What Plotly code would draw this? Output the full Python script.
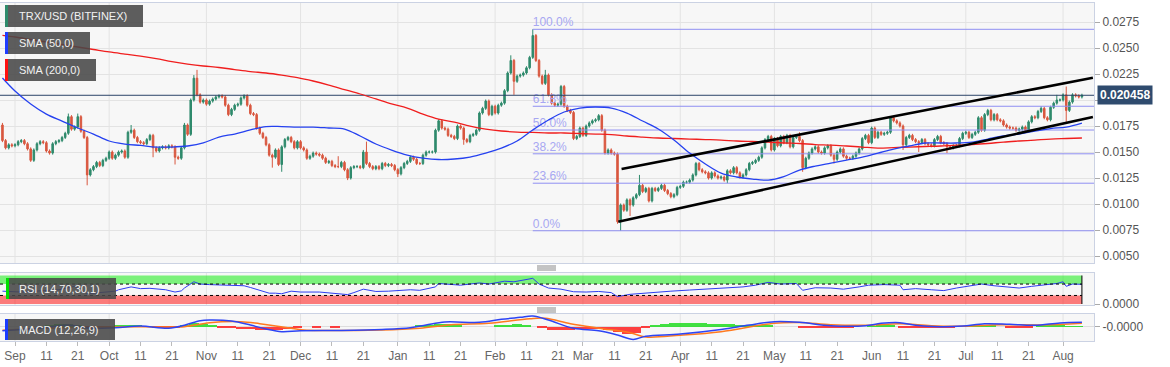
import pandas as pd
import plotly.graph_objects as go
from plotly.subplots import make_subplots

BASE = pd.Timestamp("2018-09-01")
FIRST_DAY = -4  # first candle = 2018-08-28

# ---------------- price data (thousandths of USD) ----------------
close_milli = [
    16.1, 15.4, 15.7, 15.6, 15.7, 16.0, 16.1, 15.8, 15.3, 14.2,
    15.2, 15.8, 16.0, 15.9, 15.1, 14.9, 15.8, 16.0, 16.1, 16.4,
    16.8, 18.4, 17.2, 17.4, 18.4, 17.0, 16.4, 12.8, 13.3, 13.6,
    14.0, 13.7, 14.2, 14.4, 15.0, 14.4, 14.7, 15.0, 15.1, 14.5,
    16.9, 17.1, 16.4, 16.0, 15.9, 15.8, 16.2, 16.6, 15.4, 15.1,
    15.4, 15.5, 15.4, 15.6, 15.5, 14.5, 14.4, 15.4, 17.6, 16.7,
    20.0, 22.1, 20.5, 19.8, 20.0, 19.6, 19.9, 20.1, 20.3, 20.4,
    20.3, 19.5, 18.6, 19.1, 19.5, 19.6, 20.2, 20.4, 19.5, 18.7,
    18.6, 17.3, 16.8, 16.4, 15.7, 14.7, 14.5, 15.2, 13.8, 15.5,
    16.2, 16.4, 16.0, 15.4, 16.0, 15.4, 15.2, 14.4, 14.6, 14.9,
    14.8, 14.7, 14.4, 14.0, 14.1, 13.7, 13.6, 13.6, 14.0, 13.3,
    12.5, 13.5, 13.6, 13.6, 13.5, 15.0, 13.9, 13.6, 13.4, 13.6,
    13.4, 13.9, 13.7, 13.8, 13.7, 13.3, 12.9, 13.5, 13.9, 14.1,
    14.5, 14.3, 13.9, 13.9, 14.7, 15.0, 15.0, 15.0, 17.1, 18.0,
    17.3, 17.2, 16.6, 16.5, 16.3, 17.5, 17.3, 16.2, 16.0, 16.6,
    16.7, 17.1, 18.75, 19.2, 19.9, 18.6, 19.4, 18.75, 19.5, 19.7,
    20.9, 22.6, 23.8, 21.8, 22.3, 22.4, 22.6, 23.1, 24.1, 26.2,
    23.8, 22.3, 21.6, 22.4, 20.5, 19.7, 19.5, 19.6, 21.3, 19.4,
    19.0, 18.8, 16.3, 16.5, 17.3, 16.6, 17.5, 17.8, 18.0, 18.1,
    18.5, 17.1, 14.9, 15.2, 14.9, 14.8, 8.3, 9.9, 9.4, 10.4,
    9.9, 10.6, 10.9, 11.8, 11.2, 11.5, 10.3, 11.5, 11.3, 11.5,
    11.8, 11.3, 11.0, 10.7, 10.9, 11.6, 11.7, 12.1, 12.1, 12.3,
    12.8, 13.9, 13.3, 13.1, 13.0, 12.5, 13.0, 12.7, 12.5, 12.6,
    12.3, 13.2, 13.0, 13.5, 13.0, 12.6, 12.8, 13.3, 13.9, 14.0,
    14.2, 14.5, 15.4, 16.2, 16.5, 15.2, 16.3, 15.6, 16.5, 15.9,
    16.6, 15.5, 16.4, 16.5, 16.1, 13.5, 14.4, 14.9, 15.3, 15.5,
    15.0, 14.9, 15.4, 15.6, 14.7, 14.3, 15.0, 15.3, 14.6, 14.4,
    14.4, 14.6, 14.9, 15.3, 16.3, 16.6, 15.9, 17.3, 16.4, 16.9,
    16.7, 16.8, 16.9, 18.3, 18.0, 17.8, 17.5, 15.7, 16.4, 16.6,
    16.2, 16.0, 15.9, 16.2, 15.8, 15.7, 15.6, 16.2, 16.5, 15.9,
    15.8, 15.5, 15.4, 15.6, 15.6, 16.3, 16.8, 16.9, 16.4, 16.7,
    16.9, 18.3, 17.1, 18.6, 19.0, 18.1, 18.6, 18.1, 18.0, 17.6,
    17.4, 17.3, 17.3, 17.1, 17.2, 17.4, 17.1, 17.9, 18.4, 18.3,
    18.9, 19.2, 18.3, 18.1, 19.3, 19.7, 20.0, 20.0, 20.5, 19.0,
    19.8, 20.5, 20.4, 20.3, 20.458,
]
first_open_milli = 17.6
high_milli = {-4: 17.8, 17: 18.7, 20: 18.7, 37: 17.6, 54: 17.8, 57: 22.4, 58: 22.9,
              103: 14.6, 111: 15.2, 112: 16.0, 158: 24.3, 165: 26.8, 169: 22.9,
              199: 12.8, 250: 16.9, 327: 19.4, 332: 20.5, 335: 21.3}
low_milli = {23: 11.8, 44: 14.5, 51: 13.8, 82: 13.5, 85: 13.1, 106: 12.3, 122: 12.6,
             143: 15.7, 159: 20.5, 192: 8.1, 193: 7.43, 196: 8.85, 227: 12.0,
             251: 13.1, 261: 13.9, 283: 15.2, 288: 15.0, 297: 14.9, 335: 17.9}
typical_wick_milli = 0.15

# ---------------- moving averages (sampled) ----------------
sma_day = [-4] + list(range(0, 341, 5))
sma50_milli = [22.12, 20.87, 19.62, 18.65, 17.98, 17.31, 16.73, 16.06, 15.77, 15.63,
               15.48, 15.48, 15.58, 15.87, 16.44, 16.73, 17.12, 17.45, 17.45, 17.4,
               17.4, 17.31, 17.21, 16.54, 15.77, 15.19, 14.71, 14.42, 14.28, 14.33,
               14.52, 14.9, 15.38, 16.06, 17.12, 18.08, 18.85, 19.23, 19.33, 19.23,
               18.75, 17.98, 17.21, 16.15, 14.9, 13.85, 12.98, 12.6, 12.4, 12.3,
               12.64, 13.27, 13.65, 13.94, 14.23, 14.52, 14.9, 15.29, 15.58, 15.87,
               15.87, 15.87, 15.96, 16.25, 16.54, 16.73, 17.02, 17.26, 17.4, 17.79]
sma200_milli = [26.22, 26.06, 25.82, 25.58, 25.34, 25.1, 24.86, 24.62, 24.42, 24.23,
                23.99, 23.7, 23.46, 23.27, 23.13, 22.93, 22.74, 22.6, 22.4, 22.16,
                21.83, 21.44, 21.01, 20.58, 20.1, 19.62, 19.23, 18.65, 18.17, 17.88,
                17.5, 17.21, 17.02, 16.92, 16.88, 16.83, 16.83, 16.78, 16.73, 16.68,
                16.54, 16.44, 16.35, 16.3, 16.25, 16.2, 16.15, 16.06, 16.01, 15.96,
                15.87, 15.82, 15.72, 15.67, 15.58, 15.48, 15.38, 15.43, 15.48, 15.53,
                15.58, 15.67, 15.72, 15.82, 15.96, 16.06, 16.15, 16.25, 16.3, 16.35]

# ---------------- RSI ----------------
rsi_day = [-4, 2, 8, 14, 19, 23, 27, 32, 33, 37, 40, 43, 48, 51, 53, 54, 57, 59, 62, 66,
           73, 75, 78, 81, 83, 85, 88, 91, 97, 102, 106, 108, 111, 115, 119, 126, 129,
           134, 135, 142, 148, 151, 156, 159, 165, 167, 170, 174, 178, 182, 186, 190,
           192, 196, 202, 209, 215, 221, 226, 232, 236, 240, 244, 249, 251, 255, 260,
           264, 269, 272, 277, 282, 283, 287, 292, 296, 300, 304, 308, 312, 317, 320,
           324, 328, 332, 334, 335, 337, 340]
rsi_value = [45, 42, 46, 50, 62, 35, 40, 45, 50, 60, 54, 55, 50, 42, 46, 56, 78, 70, 68, 66,
             64, 58, 48, 38, 38, 36, 45, 42, 42, 38, 33, 40, 52, 44, 45, 50, 48,
             60, 72, 66, 74, 70, 80, 78, 90, 70, 56, 52, 43, 42, 44, 40,
             26, 34, 40, 45, 49, 52, 55, 60, 66, 76, 70, 72, 48, 57, 56,
             52, 60, 66, 68, 66, 50, 54, 50, 47, 56, 62, 70, 64, 58, 56,
             62, 68, 72, 78, 62, 70, 69]
rsi_upper, rsi_lower = 70, 30

# ---------------- MACD (units of 1e-4) ----------------
macd_day = [-4, 8, 17, 24, 32, 40, 49, 54, 59, 62, 69, 75, 80, 85, 91, 104, 117, 126, 131,
            137, 148, 155, 161, 165, 170, 178, 186, 192, 197, 201, 212, 225, 234, 242,
            250, 260, 271, 276, 282, 287, 295, 302, 309, 317, 325, 333, 340]
macd_e4 = [-8, -3.3, 3.4, -3.3, -2, 1.4, -3, 3, 12, 13.4, 11.4, 3.4, -4.6, -10, -8, -7.4,
           -5.4, -2, 3.4, 9.4, 8.7, 14.7, 18.7, 21.4, 13.4, -3.3, -8, -16.6, -25.4, -19,
           -14.6, -5.4, 3.4, 10, 8.7, 2, 2, 6.7, 8, 2.7, 0, 1.4, 6, 4.7, 2.7, 7.4, 8.7]
signal_day = [-4, 14, 27, 40, 54, 62, 72, 78, 88, 91, 117, 129, 139, 151, 164, 169, 177,
              186, 196, 201, 212, 225, 242, 250, 260, 272, 282, 292, 302, 314, 327, 340]
signal_e4 = [-7, -2, -1, 0, 0, 8, 10, 6, -3, -6, -6.5, -3, 4, 7, 16, 17, 6,
             -3, -12, -20.5, -17, -10, 7, 8.5, 4, 3, 6, 2, 1, 4, 3.5, 7]
hist_day = [11, 14, 17, 20, 23, 26, 29, 33, 36, 39, 42, 45, 48, 51, 54, 57, 60, 63, 66, 69,
            72, 75, 78, 81, 84, 87, 90, 96, 102, 129, 132, 135, 138, 141, 154, 157, 160,
            163, 168, 171, 174, 177, 180, 183, 186, 189, 192, 195, 198, 201, 204, 207,
            210, 213, 216, 219, 222, 225, 228, 231, 234, 237, 240, 251, 254, 257, 260,
            263, 266, 273, 276, 279, 283, 286, 289, 292, 295, 298, 302, 305, 308, 311,
            317, 320, 323, 327, 330, 333, 336, 339]
hist_e4 = [2, 5, 6, 3, -3, -2, -1, 2, 4, 3, 1, -1, -1, -2, 3, 7, 5, 3, -2, -3,
           -4, -5, -6, -7, -6, -4, -1, -1, -1, 2, 4, 6, 5, 3, 2, 4, 5,
           3, -3, -6, -7, -6, -5, -4, -5, -6, -10, -14, -12, -3, 2, 5,
           7, 7, 8, 7, 6, 5, 5, 4, 4, 3, 3, -2, -3, -3, -2,
           -2, -1, 1, 2, 2, -2, -3, -3, -2, -2, -1, 1, 2, 3, 2,
           -1, -2, -1, 2, 2, 2, 1, 1]

# ---------------- drawings ----------------
fib_high_milli = 26.8
fib_low_milli = 7.43
fib_start_day = 165
fib_ratios = [1.0, 0.618, 0.5, 0.382, 0.236, 0.0]
fib_labels = ["100.0%", "61.8%", "50.0%", "38.2%", "23.6%", "0.0%"]
last_price = 0.020458
chan_upper_day = [193.3, 343.5]
chan_upper_milli = [13.37, 22.14]
chan_lower_day = [192.25, 343.5]
chan_lower_milli = [8.3, 18.37]

month_names = ["Sep", "Oct", "Nov", "Dec", "Jan", "Feb", "Mar", "Apr", "May", "Jun", "Jul", "Aug"]
month_starts = ["2018-09-01", "2018-10-01", "2018-11-01", "2018-12-01", "2019-01-01",
                "2019-02-01", "2019-03-01", "2019-04-01", "2019-05-01", "2019-06-01",
                "2019-07-01", "2019-08-01"]
price_ticks = [0.0050, 0.0075, 0.0100, 0.0125, 0.0150, 0.0175, 0.0200, 0.0225, 0.0250, 0.0275]
price_tick_text = ["0.0050", "0.0075", "0.0100", "0.0125", "0.0150", "0.0175", "",
                   "0.0225", "0.0250", "0.0275"]

# ---------------- build ----------------
def day(d):
    return BASE + pd.Timedelta(days=d)

M = 1e-3
n = len(close_milli)
cdays = [FIRST_DAY + i for i in range(n)]
dates = [day(d) for d in cdays]
opens_m = [first_open_milli] + close_milli[:-1]
highs = []
lows = []
for d, o, c in zip(cdays, opens_m, close_milli):
    highs.append(high_milli.get(d, max(o, c) + typical_wick_milli) * M)
    lows.append(low_milli.get(d, min(o, c) - typical_wick_milli) * M)
opens = [v * M for v in opens_m]
closes = [v * M for v in close_milli]

x_start = day(-4.78)
x_end = day(343.85)

GREEN = "#2f8a6c"
RED = "#d9573f"
FONT = "Liberation Sans, Arial, sans-serif"

fig = make_subplots(rows=3, cols=1, shared_xaxes=True, vertical_spacing=0.02)

# fib lines + labels (beneath candles)
rng = fib_high_milli - fib_low_milli
for r, lab in zip(fib_ratios, fib_labels):
    lvl = (fib_low_milli + r * rng) * M
    fig.add_trace(go.Scatter(x=[day(fib_start_day), x_end], y=[lvl, lvl], mode="lines",
                             line=dict(color="#8f8ff2", width=1), hoverinfo="skip"), row=1, col=1)
    fig.add_trace(go.Scatter(x=[day(fib_start_day)], y=[lvl], mode="text", text=[lab],
                             textposition="top right",
                             textfont=dict(color="#a7a7f2", size=12, family=FONT),
                             hoverinfo="skip"), row=1, col=1)

# last price line
fig.add_trace(go.Scatter(x=[x_start, x_end], y=[last_price, last_price], mode="lines",
                         line=dict(color="#2c4468", width=1), hoverinfo="skip"), row=1, col=1)

fig.add_trace(go.Candlestick(x=dates, open=opens, high=highs, low=lows, close=closes,
                             increasing=dict(line=dict(color=GREEN, width=1), fillcolor=GREEN),
                             decreasing=dict(line=dict(color=RED, width=1), fillcolor=RED),
                             whiskerwidth=0, hoverinfo="skip"), row=1, col=1)

fig.add_trace(go.Scatter(x=[day(d) for d in sma_day], y=[v * M for v in sma200_milli],
                         mode="lines", line=dict(color="#f01e1e", width=1.3, shape="spline"),
                         hoverinfo="skip"), row=1, col=1)
fig.add_trace(go.Scatter(x=[day(d) for d in sma_day], y=[v * M for v in sma50_milli],
                         mode="lines", line=dict(color="#2541f0", width=1.3, shape="spline"),
                         hoverinfo="skip"), row=1, col=1)

fig.add_trace(go.Scatter(x=[day(d) for d in chan_upper_day], y=[v * M for v in chan_upper_milli],
                         mode="lines", line=dict(color="black", width=2.6), hoverinfo="skip"), row=1, col=1)
fig.add_trace(go.Scatter(x=[day(d) for d in chan_lower_day], y=[v * M for v in chan_lower_milli],
                         mode="lines", line=dict(color="black", width=2.6), hoverinfo="skip"), row=1, col=1)

# RSI
fig.add_trace(go.Scatter(x=[day(d) for d in rsi_day], y=rsi_value, mode="lines",
                         line=dict(color="#2d3cf0", width=1), hoverinfo="skip"), row=2, col=1)

# MACD
fig.add_trace(go.Bar(x=[day(d) for d in hist_day], y=[v * 1e-4 for v in hist_e4],
                     width=3 * 86400000,
                     marker=dict(color=["#22dd22" if v >= 0 else "#ff2020" for v in hist_e4],
                                 line=dict(width=0)),
                     opacity=0.85, hoverinfo="skip"), row=3, col=1)
fig.add_trace(go.Scatter(x=[day(d) for d in signal_day], y=[v * 1e-4 for v in signal_e4],
                         mode="lines", line=dict(color="#ff7a1f", width=1.5, shape="spline"),
                         hoverinfo="skip"), row=3, col=1)
fig.add_trace(go.Scatter(x=[day(d) for d in macd_day], y=[v * 1e-4 for v in macd_e4],
                         mode="lines", line=dict(color="#2d44f5", width=1.5, shape="spline"),
                         hoverinfo="skip"), row=3, col=1)

# ---- axes ----
tickvals, ticktext = [], []
for ms, name in zip(month_starts, month_names):
    t = pd.Timestamp(ms)
    for dd, lab in ((0, name), (10, "11"), (20, "21")):
        v = t + pd.Timedelta(days=dd)
        if v < x_end:
            tickvals.append(v)
            ticktext.append(lab)

BORDER = "#cbd2e3"
GRID = "#e3e3e3"
for i in (1, 2, 3):
    fig.update_xaxes(row=i, col=1, range=[x_start, x_end], showgrid=False, zeroline=False,
                     showline=True, mirror=True, linecolor=BORDER, linewidth=1,
                     rangeslider_visible=False, tickvals=tickvals, ticktext=ticktext,
                     showticklabels=(i == 3), ticks="outside" if i == 3 else "",
                     ticklen=4, tickcolor="#bbbbbb",
                     tickfont=dict(family=FONT, size=12, color="#666666"))

fig.update_layout(
    width=1170, height=367,
    margin=dict(l=0, r=76, t=3, b=26),
    paper_bgcolor="white", plot_bgcolor="#f7f7f7",
    showlegend=False, bargap=0,
    font=dict(family=FONT, size=12, color="#555555"),
    yaxis=dict(domain=[0.2308, 1.0], side="right", range=[0.00433, 0.02933],
               tickvals=price_ticks, ticktext=price_tick_text, showgrid=True, gridcolor=GRID,
               zeroline=False, showline=True, mirror=True, linecolor=BORDER,
               ticks="outside", ticklen=5, tickcolor="#aaaaaa",
               tickfont=dict(family=FONT, size=12, color="#555555")),
    yaxis2=dict(domain=[0.1065, 0.2012], side="right", range=[-3.5, 108.8],
                tickvals=[0], ticktext=["0.0000"], showgrid=False, zeroline=False,
                showline=True, mirror=True, linecolor=BORDER,
                ticks="outside", ticklen=5, tickcolor="#aaaaaa",
                tickfont=dict(family=FONT, size=12, color="#555555")),
    yaxis3=dict(domain=[0.0, 0.0799], side="right", range=[-28.6e-4, 25.4e-4],
                tickvals=[0], ticktext=["-0.0000"], showgrid=True, gridcolor="#dddddd",
                zeroline=False, showline=True, mirror=True, linecolor=BORDER,
                ticks="outside", ticklen=5, tickcolor="#aaaaaa",
                tickfont=dict(family=FONT, size=12, color="#555555")),
)

shapes = []
# month grid lines in every panel
for ms in month_starts:
    for yr in ("y domain", "y2 domain", "y3 domain"):
        shapes.append(dict(type="line", xref="x", yref=yr, x0=ms, x1=ms, y0=0, y1=1,
                           line=dict(color=GRID, width=1), layer="below"))

# RSI bands
band_end = day(cdays[-1])
shapes += [
    dict(type="rect", xref="x", yref="y2", x0=x_start, x1=band_end, y0=rsi_upper, y1=100,
         fillcolor="rgba(0,235,0,0.5)", line=dict(width=0), layer="below"),
    dict(type="rect", xref="x", yref="y2", x0=x_start, x1=band_end, y0=0, y1=rsi_lower,
         fillcolor="rgba(255,0,0,0.5)", line=dict(width=0), layer="below"),
    dict(type="line", xref="x", yref="y2", x0=x_start, x1=band_end, y0=rsi_upper, y1=rsi_upper,
         line=dict(color="black", width=1, dash="dot")),
    dict(type="line", xref="x", yref="y2", x0=x_start, x1=band_end, y0=rsi_lower, y1=rsi_lower,
         line=dict(color="black", width=1, dash="dot")),
    dict(type="line", xref="x", yref="y2", x0=band_end, x1=band_end, y0=0, y1=100,
         line=dict(color="black", width=1)),
]

# overlay label boxes (pixel positions -> paper)
def px(xp):
    return xp / 1094.0

def py(yp):
    return (341.0 - yp) / 338.0

boxes = [
    ("TRX/USD (BITFINEX)", 5, 143, 5, 27, "#2e8b6b"),
    ("SMA (50,0)", 5, 90, 32, 54, "#1f3cff"),
    ("SMA (200,0)", 5, 96, 59, 81, "#ff1010"),
    ("RSI (14,70,30,1)", 6, 116, 278, 299, "#00e000"),
    ("MACD (12,26,9)", 5, 115, 319, 340, "#1a3cff"),
]
annotations = []
for text, x0, x1, y0, y1, col in boxes:
    shapes.append(dict(type="rect", xref="paper", yref="paper", x0=px(x0), x1=px(x1),
                       y0=py(y1), y1=py(y0), fillcolor="rgba(72,72,72,0.88)",
                       line=dict(width=0), layer="above"))
    shapes.append(dict(type="rect", xref="paper", yref="paper", x0=px(x0), x1=px(x0 + 3),
                       y0=py(y1), y1=py(y0), fillcolor=col, line=dict(width=0), layer="above"))
    annotations.append(dict(xref="paper", yref="paper", x=px(17), y=py((y0 + y1) / 2),
                            xanchor="left", yanchor="middle", showarrow=False, text=text,
                            font=dict(family=FONT, size=11, color="#f2f2f2")))

# panel resize handles
for ys in ((266, 268, 270), (308, 310, 312)):
    for yy in ys:
        shapes.append(dict(type="line", xref="paper", yref="paper", x0=px(537), x1=px(556),
                           y0=py(yy), y1=py(yy), line=dict(color="#888888", width=1)))

annotations.append(dict(xref="paper", x=1, xanchor="left", xshift=3, yref="y", y=last_price,
                        yanchor="middle", showarrow=False, text="<b>0.020458</b>",
                        bgcolor="#2f4b6e", borderpad=2,
                        font=dict(family=FONT, size=12, color="white")))

fig.update_layout(shapes=shapes, annotations=annotations)
fig.write_html("out.html",
               config={"displayModeBar": False},
               post_script="document.body.style.margin='0px';"
                           "document.body.style.overflow='hidden';"
                           "document.documentElement.style.overflow='hidden';")
